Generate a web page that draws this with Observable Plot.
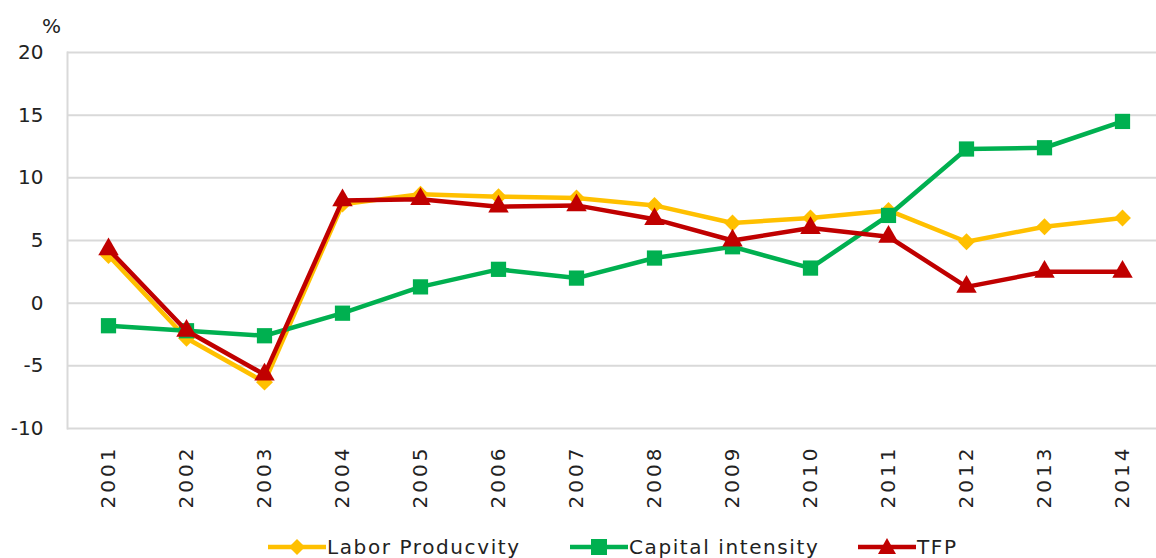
<!DOCTYPE html>
<html>
<head>
<meta charset="utf-8">
<script src="https://cdn.jsdelivr.net/npm/d3@7"></script>
<script src="https://cdn.jsdelivr.net/npm/@observablehq/plot@0.6"></script>
<style>
  body { margin: 0; background: #fff; font-family: "DejaVu Sans", sans-serif; }
  #wrap { position: relative; width: 1156px; height: 558px; overflow: hidden; }
  #unit { position: absolute; left: 42px; top: 14px; font-size: 20px; color: #222; }
  #legend { position: absolute; left: 0; top: 534px; width: 1156px; height: 26px; font-size: 20px; color: #222; letter-spacing: 1.6px; }
  .item { position: absolute; top: 0; display: flex; align-items: center; height: 26px; }
  .item svg { display: block; }
  g[aria-label="x-axis tick label"] text { letter-spacing: 3px; }
</style>
</head>
<body>
<div id="wrap">
  <div id="chart"></div>
  <div id="unit">%</div>
  <div id="legend"></div>
</div>
<script>
const years = ["2001","2002","2003","2004","2005","2006","2007","2008","2009","2010","2011","2012","2013","2014"];
const laborProductivity = [3.8, -2.8, -6.3, 7.9, 8.7, 8.5, 8.4, 7.8, 6.4, 6.8, 7.4, 4.9, 6.1, 6.8];
const capitalIntensity = [-1.8, -2.2, -2.6, -0.8, 1.3, 2.7, 2.0, 3.6, 4.5, 2.8, 7.0, 12.3, 12.4, 14.5];
const tfp = [4.3, -2.2, -5.7, 8.2, 8.3, 7.7, 7.8, 6.7, 5.0, 6.0, 5.3, 1.3, 2.5, 2.5];
const seriesNames = ["Labor Producvity", "Capital intensity", "TFP"];
const yTicks = [-10, -5, 0, 5, 10, 15, 20];

const colors = ["#FFC000", "#00B050", "#C00000"];
const symbols = ["diamond2", "square", "triangle"];
const radii = [7.6, 8.6, 7.6];
const values = [laborProductivity, capitalIntensity, tfp];

const seriesMarks = [];
values.forEach((vals, i) => {
  const data = years.map((y, j) => ({year: y, value: vals[j]}));
  seriesMarks.push(Plot.line(data, {x: "year", y: "value", stroke: colors[i], strokeWidth: 4.5}));
  seriesMarks.push(Plot.dot(data, {x: "year", y: "value", symbol: () => symbols[i], fill: colors[i], stroke: "none", r: radii[i]}));
});

const chart = Plot.plot({
  width: 1156,
  height: 520,
  marginTop: 52,
  marginBottom: 92,
  marginLeft: 67,
  marginRight: 0,
  style: {fontFamily: "DejaVu Sans, sans-serif", fontSize: "20px", color: "#222", background: "#fff"},
  x: {domain: years, type: "point", range: [105, 1125], padding: 0},
  y: {domain: [-10, 20]},
  symbol: {type: "identity"},
  marks: [
    Plot.gridY(yTicks, {stroke: "#d9d9d9", strokeOpacity: 1, strokeWidth: 2}),
    Plot.frame({anchor: "left", stroke: "#d9d9d9", strokeWidth: 2}),
    Plot.axisY(yTicks, {tickSize: 0, tickPadding: 24, label: null, fontSize: 20, tickFormat: d => String(d)}),
    Plot.axisX({tickSize: 0, tickRotate: -90, tickPadding: 17, label: null, fontSize: 20}),
    ...seriesMarks
  ]
});
document.getElementById("chart").appendChild(chart);

// legend
const legend = document.getElementById("legend");
const legendX = [268, 570, 858];
const markerSvg = [
  '<polygon points="29,3 37,11 29,19 21,11" />',
  '<rect x="21" y="3" width="16" height="16" />',
  '<polygon points="29,2 38,18 20,18" />'
];
seriesNames.forEach((name, i) => {
  const d = document.createElement("div");
  d.className = "item";
  d.style.left = legendX[i] + "px";
  d.innerHTML = `<svg width="58" height="22"><line x1="0" x2="58" y1="11" y2="11" stroke="${colors[i]}" stroke-width="4.5"/><g fill="${colors[i]}">${markerSvg[i]}</g></svg><span style="margin-left:1px">${name}</span>`;
  legend.appendChild(d);
});
</script>
</body>
</html>
